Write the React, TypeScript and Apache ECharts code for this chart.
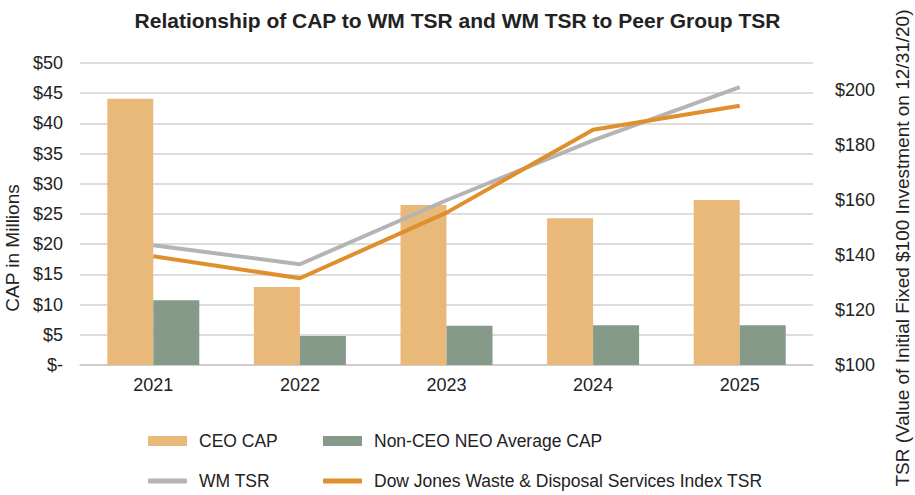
import React, { useEffect, useRef } from "react";
import * as echarts from "echarts";

const years = ["2021", "2022", "2023", "2024", "2025"];
const ceoCap = [44.1, 12.9, 26.5, 24.3, 27.3];
const nonCeoCap = [10.7, 4.8, 6.5, 6.6, 6.6];
const wmTsr = [143.6, 136.7, 160.0, 181.8, 201.2];
const djTsr = [139.6, 131.6, 155.5, 185.7, 194.4];

const FONT = "'Liberation Sans', Arial, Helvetica, sans-serif";

const legendText = { fontSize: 17.5, color: "#222", padding: [0, 0, 0, 7], fontFamily: FONT };

function legendItem(name: string, left: number, centerY: number, isLine: boolean) {
  const h = isLine ? 5 : 10;
  return {
    data: [name],
    left,
    top: centerY - 10,
    padding: 0,
    itemWidth: 39,
    itemHeight: h,
    icon: isLine ? "roundRect" : "rect",
    textStyle: legendText,
  };
}

export default function App() {
  const ref = useRef<HTMLDivElement>(null);
  useEffect(() => {
    document.body.style.margin = "0";
    const chart = echarts.init(ref.current!, null, { renderer: "svg" });
    chart.setOption({
      animation: false,
      textStyle: { fontFamily: FONT },
      title: {
        text: "Relationship of CAP to WM TSR and WM TSR to Peer Group TSR",
        left: "center",
        top: 5,
        textStyle: { fontSize: 21, fontWeight: "bold", color: "#222", fontFamily: FONT },
      },
      grid: { left: 80, right: 102, top: 63, bottom: 130 },
      legend: [
        legendItem("CEO CAP", 148, 442, false),
        legendItem("Non-CEO NEO Average CAP", 323, 442, false),
        legendItem("WM TSR", 148, 482, true),
        legendItem("Dow Jones Waste & Disposal Services Index TSR", 323, 482, true),
      ],
      xAxis: {
        type: "category",
        data: years,
        axisTick: { show: false },
        axisLine: { lineStyle: { color: "#c8c8c8", width: 1.5 } },
        axisLabel: { fontSize: 18, color: "#222", margin: 11, fontFamily: FONT },
      },
      yAxis: [
        {
          type: "value",
          min: 0,
          max: 50,
          interval: 5,
          axisLine: { show: false },
          axisTick: { show: false },
          splitLine: { lineStyle: { color: "#d0d0d0", width: 1.5 } },
          axisLabel: {
            fontSize: 18,
            color: "#222",
            margin: 17,
            fontFamily: FONT,
            formatter: (v: number) => (v === 0 ? "$-" : "$" + v),
          },
        },
        {
          type: "value",
          min: 100,
          max: 210,
          interval: 20,
          position: "right",
          axisLine: { show: false },
          axisTick: { show: false },
          splitLine: { show: false },
          axisLabel: {
            fontSize: 18,
            color: "#222",
            margin: 22,
            fontFamily: FONT,
            formatter: (v: number) => (v > 200 ? "" : "$" + v),
          },
        },
      ],
      graphic: [
        {
          type: "text",
          x: 12,
          y: 248,
          rotation: Math.PI / 2,
          style: {
            text: "CAP in Millions",
            fontSize: 19,
            fill: "#222",
            fontFamily: FONT,
            align: "center",
            verticalAlign: "middle",
          },
        },
        {
          type: "text",
          x: 902,
          y: 248,
          rotation: Math.PI / 2,
          style: {
            text: "TSR (Value of Initial Fixed $100 Investment on 12/31/20)",
            fontSize: 19,
            fill: "#222",
            fontFamily: FONT,
            align: "center",
            verticalAlign: "middle",
          },
        },
      ],
      series: [
        {
          name: "CEO CAP",
          type: "bar",
          data: ceoCap,
          barWidth: 46,
          barGap: "0%",
          itemStyle: { color: "#e9b97a" },
        },
        {
          name: "Non-CEO NEO Average CAP",
          type: "bar",
          data: nonCeoCap,
          barWidth: 46,
          barGap: "0%",
          itemStyle: { color: "#859a89" },
        },
        {
          name: "WM TSR",
          type: "line",
          yAxisIndex: 1,
          data: wmTsr,
          symbol: "none",
          lineStyle: { color: "#b4b4b4", width: 4 },
          itemStyle: { color: "#b4b4b4" },
        },
        {
          name: "Dow Jones Waste & Disposal Services Index TSR",
          type: "line",
          yAxisIndex: 1,
          data: djTsr,
          symbol: "none",
          lineStyle: { color: "#df8f2c", width: 4 },
          itemStyle: { color: "#df8f2c" },
        },
      ],
    });
    return () => chart.dispose();
  }, []);
  return <div ref={ref} style={{ width: 915, height: 495 }} />;
}
